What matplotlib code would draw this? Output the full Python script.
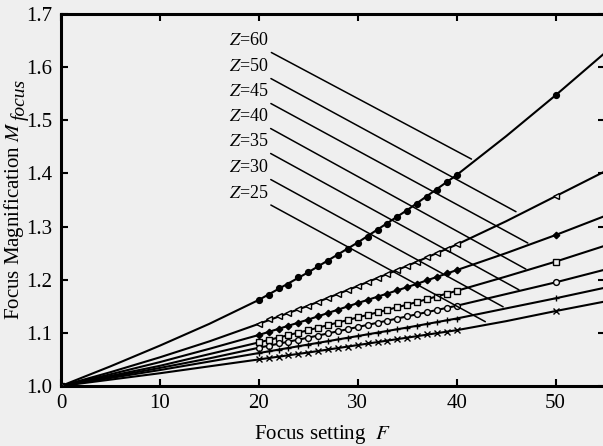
import numpy as np
import matplotlib
matplotlib.use('Agg')
import matplotlib.pyplot as plt

plt.rcParams['font.family'] = ['Liberation Serif', 'DejaVu Serif']
plt.rcParams['mathtext.fontset'] = 'stix'

# Datos
z_values = [60, 50, 45, 40, 35, 30, 25]
markers = ['o', '<', 'D', 's', 'o', '+', 'x']
filled = [True, False, True, False, False, True, True]

# curva ajustada (cada 5 unidades de F)
f_curve = [0, 5, 10, 15, 20, 25, 30, 35, 40, 45, 50, 55]
m_curve_60 = [1.0, 1.037, 1.076, 1.117, 1.162, 1.214, 1.270, 1.331, 1.397, 1.470, 1.547, 1.627]
m_curve_50 = [1.0, 1.026, 1.054, 1.084, 1.117, 1.151, 1.188, 1.226, 1.266, 1.310, 1.357, 1.404]
m_curve_45 = [1.0, 1.022, 1.045, 1.070, 1.096, 1.125, 1.156, 1.186, 1.218, 1.250, 1.284, 1.320]
m_curve_40 = [1.0, 1.019, 1.038, 1.060, 1.082, 1.105, 1.129, 1.153, 1.179, 1.206, 1.234, 1.264]
m_curve_35 = [1.0, 1.017, 1.034, 1.052, 1.072, 1.091, 1.111, 1.131, 1.151, 1.173, 1.195, 1.219]
m_curve_30 = [1.0, 1.015, 1.030, 1.046, 1.062, 1.078, 1.094, 1.110, 1.127, 1.146, 1.165, 1.185]
m_curve_25 = [1.0, 1.012, 1.024, 1.037, 1.050, 1.063, 1.077, 1.091, 1.105, 1.122, 1.141, 1.159]

# puntos medidos: F = 0, 20..40, 50
f_meas = [0, 20, 21, 22, 23, 24, 25, 26, 27, 28, 29, 30, 31, 32, 33, 34, 35, 36, 37, 38, 39, 40, 50]
m_meas_60 = [1.0, 1.162, 1.172, 1.184, 1.190, 1.205, 1.215, 1.226, 1.236, 1.247, 1.258, 1.270, 1.281,
             1.293, 1.305, 1.318, 1.330, 1.343, 1.356, 1.369, 1.383, 1.397, 1.547]
m_meas_50 = [1.0, 1.117, 1.126, 1.131, 1.138, 1.144, 1.151, 1.158, 1.166, 1.173, 1.180, 1.188, 1.195,
             1.203, 1.211, 1.218, 1.226, 1.234, 1.242, 1.250, 1.258, 1.268, 1.357]
m_meas_45 = [1.0, 1.096, 1.102, 1.107, 1.113, 1.119, 1.125, 1.131, 1.137, 1.143, 1.150, 1.156, 1.162,
             1.168, 1.174, 1.180, 1.186, 1.192, 1.199, 1.205, 1.212, 1.218, 1.284]
m_meas_40 = [1.0, 1.082, 1.087, 1.091, 1.096, 1.100, 1.105, 1.110, 1.115, 1.119, 1.124, 1.129, 1.134,
             1.139, 1.143, 1.148, 1.153, 1.158, 1.163, 1.168, 1.173, 1.179, 1.234]
m_meas_35 = [1.0, 1.072, 1.076, 1.080, 1.083, 1.087, 1.091, 1.095, 1.099, 1.103, 1.107, 1.111, 1.115,
             1.119, 1.123, 1.127, 1.131, 1.135, 1.139, 1.143, 1.147, 1.151, 1.195]
m_meas_30 = [1.0, 1.062, 1.065, 1.068, 1.072, 1.075, 1.078, 1.081, 1.084, 1.088, 1.091, 1.094, 1.097,
             1.100, 1.104, 1.107, 1.110, 1.113, 1.117, 1.120, 1.124, 1.127, 1.165]
m_meas_25 = [1.0, 1.050, 1.053, 1.055, 1.058, 1.060, 1.063, 1.066, 1.069, 1.071, 1.074, 1.077, 1.080,
             1.083, 1.085, 1.088, 1.091, 1.094, 1.097, 1.099, 1.102, 1.105, 1.141]

curves = [m_curve_60, m_curve_50, m_curve_45, m_curve_40, m_curve_35, m_curve_30, m_curve_25]
meas = [m_meas_60, m_meas_50, m_meas_45, m_meas_40, m_meas_35, m_meas_30, m_meas_25]

# etiquetas Z: posicion del texto y punto sobre la curva
label_f = [21.0, 21.0, 21.0, 21.0, 21.0, 21.0, 21.0]
label_m = [1.650, 1.601, 1.554, 1.507, 1.460, 1.411, 1.363]
target_f = [41.5, 46.0, 47.2, 47.0, 46.3, 44.7, 42.9]
target_m = [1.427, 1.328, 1.269, 1.220, 1.181, 1.149, 1.121]

bg = '#efefef'
fig = plt.figure(figsize=(6.03, 4.46), dpi=100, facecolor=bg)
ax = fig.add_axes([61 / 603, 60 / 446, 544 / 603, 372 / 446])
ax.set_facecolor(bg)

for i in range(len(z_values)):
    ax.plot(f_curve, curves[i], color='black', lw=1.5, zorder=2)
    if filled[i]:
        fc = 'black'
    else:
        fc = bg
    ms = 4.2
    if markers[i] == 'D':
        ms = 3.3
    ax.plot(f_meas, meas[i], linestyle='none', marker=markers[i], ms=ms,
            mfc=fc, mec='black', mew=1.0, zorder=3)

    ax.annotate('$Z$=%d' % z_values[i], xy=(target_f[i], target_m[i]),
                xytext=(label_f[i], label_m[i]), ha='right', va='center', fontsize=13,
                arrowprops=dict(arrowstyle='-', color='black', lw=1.1, shrinkA=1, shrinkB=0))

ax.set_xlim(0, 55)
ax.set_ylim(1.0, 1.7)
ax.set_xticks([0, 10, 20, 30, 40, 50])
ax.set_yticks([1.0, 1.1, 1.2, 1.3, 1.4, 1.5, 1.6, 1.7])
ax.set_yticklabels(['1.0', '1.1', '1.2', '1.3', '1.4', '1.5', '1.6', '1.7'])
ax.tick_params(direction='in', top=True, right=True, length=5, width=1.5, labelsize=15, pad=6)
for s in ax.spines.values():
    s.set_linewidth(2.2)

ax.set_xlabel('Focus setting  $F$', fontsize=15)
ax.xaxis.set_label_coords(0.48, -0.1)

# etiqueta y: M con subindice "focus" casi del mismo tamano
ylab = fig.text(2 / 603, 126 / 446, 'Focus Magnification $M$', rotation=90,
                fontsize=15, ha='left', va='bottom')
fig.canvas.draw()
bb = ylab.get_window_extent()
fig.text(bb.x1 + 3, bb.y1 + 1, 'focus', rotation=90, fontsize=14, style='italic',
         ha='right', va='bottom', transform=None)

fig.savefig('out.png', dpi=100, facecolor=bg)
